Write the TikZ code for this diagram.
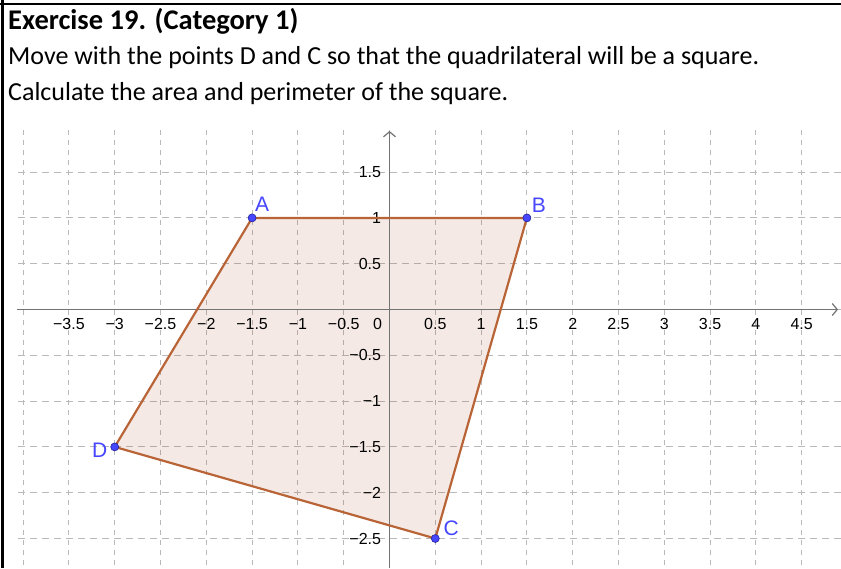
\documentclass[tikz,border=0pt]{standalone}
\usepackage{fontspec}
\setmainfont{Carlito}
\newfontfamily\ggfont{Liberation Sans}
\usetikzlibrary{arrows.meta}
\definecolor{gridc}{RGB}{185,185,185}
\definecolor{axisc}{RGB}{115,115,115}
\definecolor{polyc}{RGB}{185,100,55}
\definecolor{polyfillc}{RGB}{160,60,15}
\definecolor{ptc}{RGB}{70,70,255}
\definecolor{ptedge}{RGB}{35,35,150}
\tikzset{
  vgrid/.style={gridc, line width=1pt, dash pattern=on 5pt off 5pt},
  hgrid/.style={gridc, line width=1pt, dash pattern=on 7pt off 5pt},
  axisline/.style={axisc, line width=1.3pt, -{Straight Barb[length=5pt,width=12pt,line width=1.2pt]}},
  ticklab/.style={font=\ggfont\fontsize{16}{16}\selectfont, text=black, inner sep=0pt},
  pt/.style={circle, fill=ptc, draw=ptedge, line width=0.6pt, minimum size=8pt, inner sep=0pt},
  ptlab/.style={font=\ggfont\fontsize{21}{21}\selectfont, text=ptc, inner sep=0pt},
  polyarea/.style={fill=polyfillc, fill opacity=0.11},
  polyedge/.style={draw=polyc, line width=2.2pt, line join=round},
  txt/.style={anchor=base west, inner sep=0pt, font=\fontsize{26}{26}\selectfont},
}
\begin{document}
\begin{tikzpicture}[x=1pt,y=-1pt]
\useasboundingbox (0,0) rectangle (841,568);
\fill[white] (0,0) rectangle (841,568);
% text
\node[txt, font=\bfseries\fontsize{28.5}{28.5}\selectfont] (t1) at (8,29) {Exercise 19. (Category 1)};
\node[txt] (t2) at (8,64) {Move with the points D and C so that the quadrilateral will be a square.};
\node[txt] (t3) at (8,100) {Calculate the area and perimeter of the square.};
% grid (pixel coordinates)
\foreach \i in {-8,...,9}{
  \pgfmathsetmacro{\xx}{389.5+45.8*\i}
  \draw[vgrid] (\xx,130) -- (\xx,568);
}
\foreach \j in {-5,...,3}{
  \pgfmathsetmacro{\yy}{309.5-45.8*\j}
  \draw[hgrid] (18,\yy) -- (841,\yy);
}
\begin{scope}[shift={(389.5,309.5)}, x=91.6pt, y=91.6pt]
  \coordinate (pA) at (-1.5,1);
  \coordinate (pB) at (1.5,1);
  \coordinate (pC) at (0.5,-2.5);
  \coordinate (pD) at (-3,-1.5);
  \fill[polyarea] (pA) -- (pB) -- (pC) -- (pD) -- cycle;
\end{scope}
% axes
\coordinate (xs) at (17,309.5);
\coordinate (xe) at (838,309.5);
\coordinate (ys) at (389.5,568);
\coordinate (ye) at (389.5,131);
\draw[axisline] (xs) -- (xe);
\draw[axisline] (ys) -- (ye);
\begin{scope}[shift={(389.5,309.5)}, x=91.6pt, y=91.6pt]
  % x labels
  \foreach \v/\t in {-3.5/−3.5,-3/−3,-2.5/−2.5,-2/−2,-1.5/−1.5,-1/−1,-0.5/−0.5,0.5/0.5,1/1,1.5/1.5,2/2,2.5/2.5,3/3,3.5/3.5,4/4,4.5/4.5}{
    \node[ticklab] (xl\v) at (\v,-0.155) {\t};
  }
  \node[ticklab] (xl0) at (-0.13,-0.155) {0};
  % y labels
  \foreach \v/\t in {1.5/1.5,1/1,0.5/0.5,-0.5/−0.5,-1/−1,-1.5/−1.5,-2/−2,-2.5/−2.5}{
    \node[ticklab, anchor=east] (yl\v) at (-0.09,\v) {\t};
  }
  % polygon edges and points
  \draw[polyedge] (pA) -- (pB) -- (pC) -- (pD) -- cycle;
  \node[pt] (A) at (pA) {};
  \node[pt] (B) at (pB) {};
  \node[pt] (C) at (pC) {};
  \node[pt] (D) at (pD) {};
  \node[ptlab] (lA) at ([shift={(10pt,14pt)}]A.center) {A};
  \node[ptlab] (lB) at ([shift={(12pt,13pt)}]B.center) {B};
  \node[ptlab] (lC) at ([shift={(16pt,10pt)}]C.center) {C};
  \node[ptlab] (lD) at ([shift={(-15pt,-3pt)}]D.center) {D};
\end{scope}
% borders
\draw[black, line width=2pt] (0,4) -- (841,4);
\draw[black, line width=3pt] (2.5,0) -- (2.5,568);
\end{tikzpicture}
\end{document}
